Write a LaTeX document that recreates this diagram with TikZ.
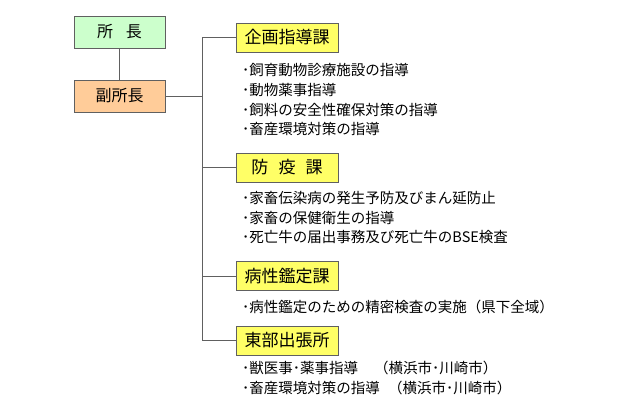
\documentclass[tikz,border=0pt]{standalone}
\usepackage{fontspec}
\setmainfont{Noto Sans CJK JP}
\definecolor{chiefgreen}{HTML}{CCFFCC}
\definecolor{viceorange}{HTML}{FFCC99}
\definecolor{secyellow}{HTML}{FFFF66}
\definecolor{edgegray}{HTML}{606060}
\begin{document}
\begin{tikzpicture}[x=1pt,y=-1pt,
  topbox/.style={draw=edgegray,line width=0.9pt,minimum width=91pt,minimum height=32pt,inner sep=0pt,font=\fontsize{16}{19}\selectfont},
  secbox/.style={draw=edgegray,line width=0.9pt,fill=secyellow,minimum width=102pt,minimum height=29pt,inner sep=0pt,font=\fontsize{17}{20}\selectfont},
  item/.style={anchor=west,inner sep=0pt,font=\fontsize{14.5}{17}\selectfont},
  conn/.style={draw=edgegray,line width=0.8pt}]
\useasboundingbox (0,0) rectangle (629,412);
\node[topbox,fill=chiefgreen] (chief) at (119.5,32) {所\hspace{0.8em}長};
\node[topbox,fill=viceorange] (vice) at (119.5,96) {副所長};
\node[secbox] (k1) at (287,37.5) {企画指導課};
\node[secbox] (k2) at (287,167.5) {防\hspace{0.6em}疫\hspace{0.6em}課};
\node[secbox] (k3) at (287,276) {病性鑑定課};
\node[secbox] (k4) at (287,340.5) {東部出張所};
\coordinate (t1) at (202,37.5);
\coordinate (t2) at (202,167.5);
\coordinate (t3) at (202,276);
\coordinate (t4) at (202,340.5);
\draw[conn] (chief.south) -- (vice.north);
\draw[conn] (vice.east) -- (vice.east -| t1);
\draw[conn] (k1.west) -- (t1) -- (t4) -- (k4.west);
\draw[conn] (t2) -- (k2.west);
\draw[conn] (t3) -- (k3.west);
\node[item] (a1) at (242,70) {･飼育動物診療施設の指導};
\node[item] (a2) at (242,90) {･動物薬事指導};
\node[item] (a3) at (242,109.5) {･飼料の安全性確保対策の指導};
\node[item] (a4) at (242,129) {･畜産環境対策の指導};
\node[item] (b1) at (242,198) {･家畜伝染病の発生予防及びまん延防止};
\node[item] (b2) at (242,218) {･家畜の保健衛生の指導};
\node[item] (b3) at (242,237.5) {･死亡牛の届出事務及び死亡牛のBSE検査};
\node[item] (c1) at (242,306.5) {･病性鑑定のための精密検査の実施（県下全域）};
\node[item] (d1) at (242,368) {\makebox[132pt][l]{･獣医事･薬事指導}（横浜市･川崎市）};
\node[item] (d2) at (242,387.5) {\makebox[146pt][l]{･畜産環境対策の指導}（横浜市･川崎市）};
\end{tikzpicture}
\end{document}
